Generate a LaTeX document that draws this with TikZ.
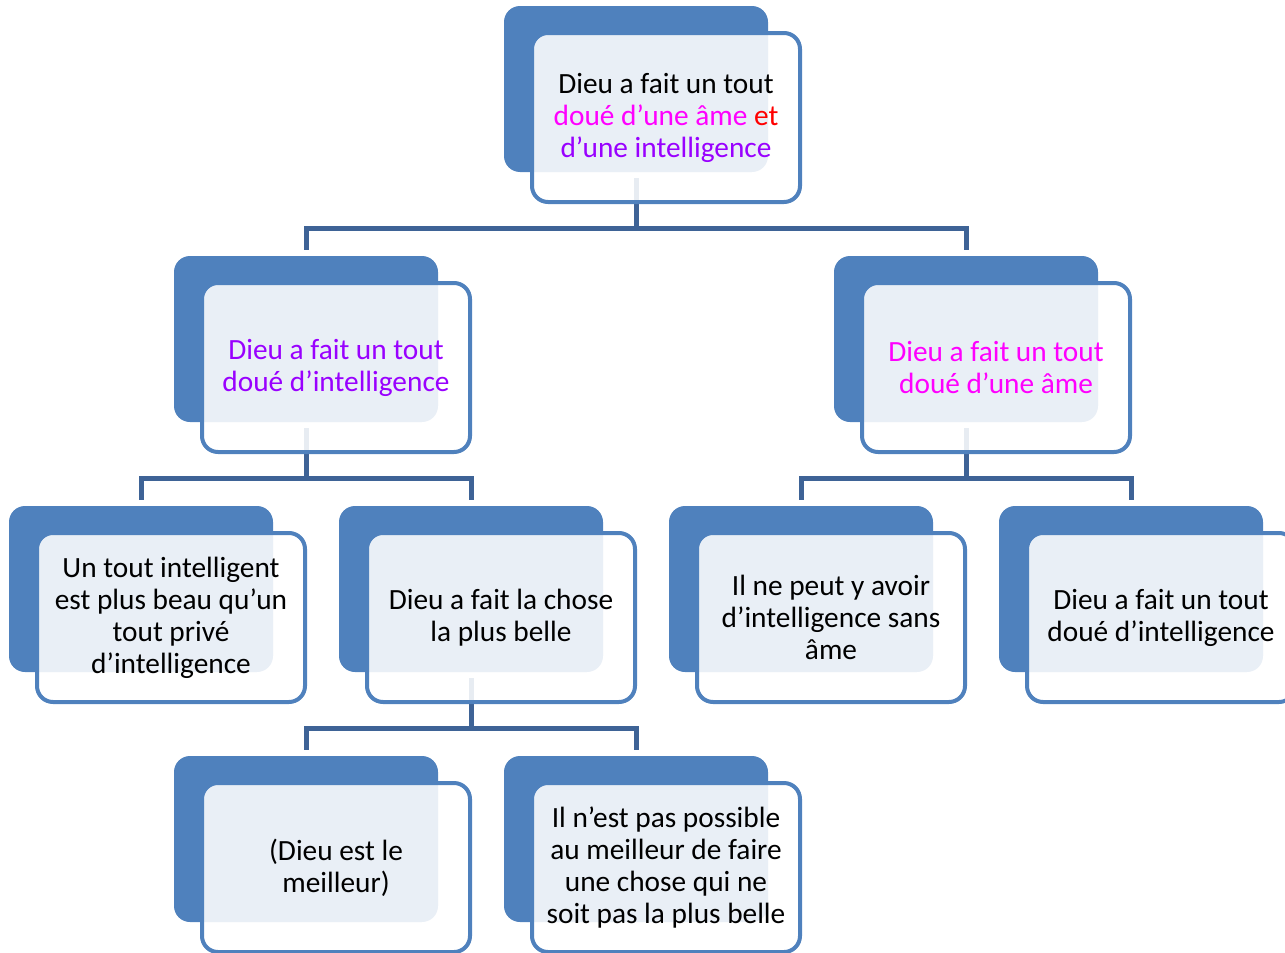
\documentclass[tikz,border=0pt]{standalone}
\usepackage{fontspec}
\setmainfont{Carlito}

\definecolor{backblue}{RGB}{79,129,189}
\definecolor{linkblue}{RGB}{62,99,150}
\definecolor{amecol}{RGB}{255,0,255}
\definecolor{intelcol}{RGB}{153,0,255}

\begin{document}
\begin{tikzpicture}[x=0.75pt, y=-0.75pt,
            backbox/.style={rectangle, rounded corners=12pt, fill=backblue, minimum width=198pt, minimum height=124.5pt, inner sep=0pt, outer sep=0pt},
            frontbox/.style={rectangle, rounded corners=12pt, draw=backblue, line width=3pt, fill=white, fill opacity=0.88, text opacity=1, minimum width=201pt, minimum height=126.75pt, inner sep=0pt, align=center, font=\fontsize{22}{24}\selectfont},
            link/.style={draw=linkblue, line width=3.75pt, shorten <=4.5pt, shorten >=4.5pt}
        ]
            \useasboundingbox (0,0) rectangle (1285,953);

            % Back boxes
            \node[backbox] (root) at (636,89) {};
            \node[backbox] (intel) at (306,339) {};
            \node[backbox] (ame) at (966,339) {};
            \node[backbox] (beau) at (141,589) {};
            \node[backbox] (belle) at (471,589) {};
            \node[backbox] (sansame) at (801,589) {};
            \node[backbox] (douintel) at (1131,589) {};
            \node[backbox] (meilleur) at (306,839) {};
            \node[backbox] (possible) at (636,839) {};

            % Links
            \draw[link] (root.south) -- ++(0,56) -| (intel.north);
            \draw[link] (root.south) -- ++(0,56) -| (ame.north);
            \draw[link] (intel.south) -- ++(0,56) -| (beau.north);
            \draw[link] (intel.south) -- ++(0,56) -| (belle.north);
            \draw[link] (ame.south) -- ++(0,56) -| (sansame.north);
            \draw[link] (ame.south) -- ++(0,56) -| (douintel.north);
            \draw[link] (belle.south) -- ++(0,56) -| (meilleur.north);
            \draw[link] (belle.south) -- ++(0,56) -| (possible.north);

            % Front boxes
            \node[frontbox] (rootcard) at (666,117.5) {Dieu a fait un tout\\\textcolor{amecol}{doué d’une âme} \textcolor{red}{et}\\\textcolor{intelcol}{d’une intelligence}};
            \node[frontbox, text=intelcol] (intelcard) at (336,367.5) {Dieu a fait un tout\\doué d’intelligence};
            \node[frontbox, text=amecol] (amecard) at (996,367.5) {Dieu a fait un tout\\doué d’une âme};
            \node[frontbox] (beaucard) at (171,617.5) {Un tout intelligent\\est plus beau qu’un\\tout privé\\d’intelligence};
            \node[frontbox] (bellecard) at (501,617.5) {Dieu a fait la chose\\la plus belle};
            \node[frontbox] (sansamecard) at (831,617.5) {Il ne peut y avoir\\d’intelligence sans\\âme};
            \node[frontbox] (douintelcard) at (1161,617.5) {Dieu a fait un tout\\doué d’intelligence};
            \node[frontbox] (meilleurcard) at (336,867.5) {(Dieu est le\\meilleur)};
            \node[frontbox] (possiblecard) at (666,867.5) {Il n’est pas possible\\au meilleur de faire\\une chose qui ne\\soit pas la plus belle};
        \end{tikzpicture}
\end{document}
